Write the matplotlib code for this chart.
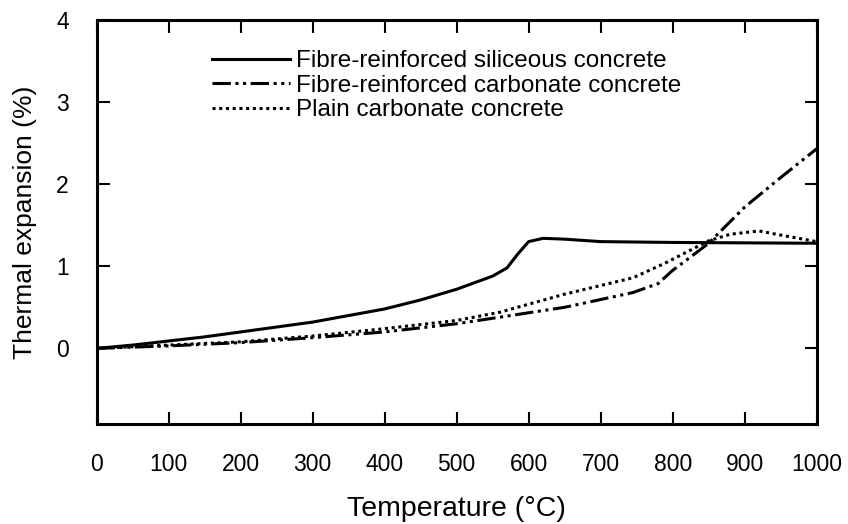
import numpy as np
import matplotlib
matplotlib.use('Agg')
import matplotlib.pyplot as plt

plt.rcParams['font.family'] = ['Liberation Sans', 'DejaVu Sans']

# Thermal expansion (%) vs temperature (deg C)
temp_sil = [0, 50, 100, 150, 200, 250, 300, 350, 400, 450, 500, 550, 570, 585, 600, 620, 650, 700, 800, 900, 1000]
exp_sil = [0, 0.04, 0.09, 0.14, 0.20, 0.26, 0.32, 0.40, 0.48, 0.59, 0.72, 0.88, 0.98, 1.15, 1.30, 1.34, 1.33, 1.30, 1.29, 1.285, 1.28]

temp_fcarb = [0, 100, 200, 300, 400, 500, 560, 650, 745, 780, 800, 820, 850, 900, 950, 1000]
exp_fcarb = [0, 0.03, 0.07, 0.13, 0.20, 0.30, 0.38, 0.50, 0.68, 0.79, 0.95, 1.08, 1.28, 1.72, 2.08, 2.43]

temp_pcarb = [0, 100, 200, 300, 400, 500, 560, 650, 745, 790, 850, 880, 920, 950, 1000]
exp_pcarb = [0, 0.04, 0.08, 0.15, 0.24, 0.34, 0.44, 0.66, 0.86, 1.04, 1.31, 1.39, 1.43, 1.38, 1.30]

labels = ['Fibre-reinforced siliceous concrete',
          'Fibre-reinforced carbonate concrete',
          'Plain carbonate concrete']

fig = plt.figure(figsize=(8.48, 5.24), dpi=100)
ax = fig.add_axes([0.114, 0.191, 0.849, 0.771])

ax.plot(temp_sil, exp_sil, color='black', lw=2.2, ls='-', label=labels[0])
ax.plot(temp_fcarb, exp_fcarb, color='black', lw=2.2, ls=(0, (6, 1.5, 1, 1.5, 1, 1.5)), label=labels[1])
ax.plot(temp_pcarb, exp_pcarb, color='black', lw=2.2, ls=(0, (1, 1.2)), label=labels[2])

ax.set_xlim(0, 1000)
ax.set_ylim(-0.92, 4)
ax.set_xticks(np.arange(0, 1001, 100))
ax.set_yticks([0, 1, 2, 3, 4])
ax.tick_params(direction='in', length=9, width=1.5, labelsize=16.5,
               top=True, right=True)
ax.tick_params(axis='x', pad=21)
ax.tick_params(axis='y', pad=20)
for s in ax.spines.values():
    s.set_linewidth(2.2)

ax.set_xlabel('Temperature (°C)', fontsize=20.5, labelpad=14)
ax.set_ylabel('Thermal expansion (%)', fontsize=19, labelpad=14)

ax.legend(loc='upper left', bbox_to_anchor=(0.16, 0.925), frameon=False,
          fontsize=17.5, handlelength=3.2, handletextpad=0.25,
          labelspacing=0.1, borderpad=0, borderaxespad=0)

fig.savefig('out.png', dpi=100)
